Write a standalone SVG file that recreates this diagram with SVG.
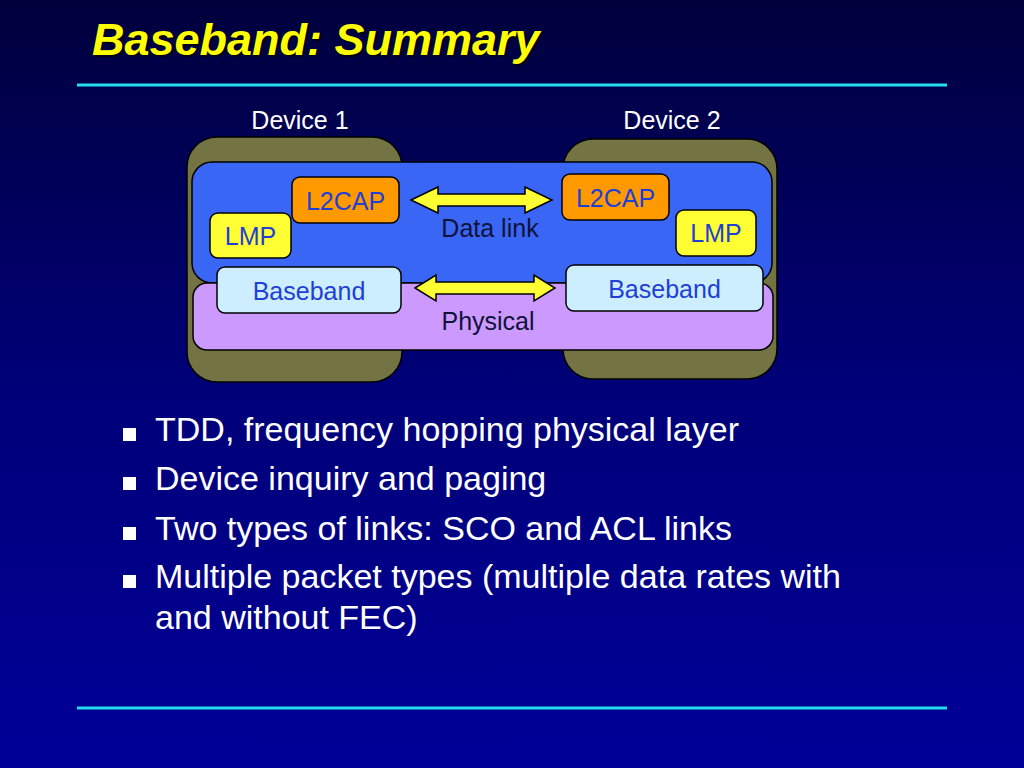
<svg xmlns="http://www.w3.org/2000/svg" width="1024" height="768" viewBox="0 0 1024 768">
<defs>
<linearGradient id="bg" x1="0" y1="0" x2="0" y2="1">
<stop offset="0" stop-color="#00003C"/>
<stop offset="0.5" stop-color="#000078"/>
<stop offset="1" stop-color="#000098"/>
</linearGradient>
<style>
.dev{fill:#737344;stroke:#000;stroke-width:1.5}
.box{stroke:#000;stroke-width:1.5}
.lbl{font-family:"Liberation Sans",Arial,sans-serif;font-size:25px;fill:#1F3FD6;text-anchor:middle}
.wt{font-family:"Liberation Sans",Arial,sans-serif;font-size:25px;fill:#FFFFFF;text-anchor:middle}
.dk{font-family:"Liberation Sans",Arial,sans-serif;font-size:25px;fill:#10123A;text-anchor:middle}
.arr{fill:#FFFF33;stroke:#000;stroke-width:1.5;stroke-linejoin:miter}
.bul{font-family:"Liberation Sans",Arial,sans-serif;font-size:34px;fill:#FFFFFF}
.sq{fill:#FFFFFF}
.rule{stroke:#22DDEE;stroke-width:3}
</style>
</defs>
<rect x="0" y="0" width="1024" height="768" fill="url(#bg)"/>
<text x="94" y="57" font-family="'Liberation Sans',Arial,sans-serif" font-size="45" font-weight="bold" font-style="italic" fill="#000000" opacity="0.7">Baseband: Summary</text>
<text x="92" y="55" font-family="'Liberation Sans',Arial,sans-serif" font-size="45" font-weight="bold" font-style="italic" fill="#FFFF00">Baseband: Summary</text>
<line class="rule" x1="77" y1="85" x2="947" y2="85"/>
<line class="rule" x1="77" y1="708" x2="947" y2="708"/>

<g id="device1">
<rect class="dev" x="187" y="137" width="215" height="245" rx="30"/>
<text class="wt" x="300" y="129">Device 1</text>
</g>
<g id="device2">
<rect class="dev" x="563" y="139" width="214" height="240" rx="30"/>
<text class="wt" x="672" y="129">Device 2</text>
</g>
<g id="datalink-layer">
<rect class="box" x="192" y="162" width="580" height="121" rx="20" fill="#3A66F5"/>
<text class="dk" x="490" y="237">Data link</text>
</g>
<g id="physical-layer">
<rect class="box" x="193" y="283" width="580" height="67" rx="14" fill="#CC99FF"/>
<text class="dk" x="488" y="330">Physical</text>
</g>
<g id="l2cap1">
<rect class="box" x="292" y="177" width="107" height="46" rx="8" fill="#FF9900"/>
<text class="lbl" x="345.5" y="210">L2CAP</text>
</g>
<g id="lmp1">
<rect class="box" x="210" y="213" width="81" height="45" rx="8" fill="#FFFF33"/>
<text class="lbl" x="250.5" y="245">LMP</text>
</g>
<g id="baseband1">
<rect class="box" x="217" y="267" width="184" height="46" rx="8" fill="#CCEEFF"/>
<text class="lbl" x="309" y="300">Baseband</text>
</g>
<g id="l2cap2">
<rect class="box" x="562" y="174" width="107" height="46" rx="8" fill="#FF9900"/>
<text class="lbl" x="615.5" y="207">L2CAP</text>
</g>
<g id="lmp2">
<rect class="box" x="676" y="210" width="80" height="46" rx="8" fill="#FFFF33"/>
<text class="lbl" x="716" y="242">LMP</text>
</g>
<g id="baseband2">
<rect class="box" x="566" y="265" width="197" height="46" rx="8" fill="#CCEEFF"/>
<text class="lbl" x="664.5" y="298">Baseband</text>
</g>

<g id="connectors">
<polygon class="arr" points="411,200 438,187 438,194 525,194 525,187 552,200 525,213 525,206 438,206 438,213"/>
<polygon class="arr" points="415,288 436,275 436,282 534,282 534,275 555,288 534,301 534,294 436,294 436,301"/>
</g>

<g id="bullets">
<rect class="sq" x="123" y="428" width="13" height="13"/>
<text class="bul" x="155" y="441">TDD, frequency hopping physical layer</text>
<rect class="sq" x="123" y="477" width="13" height="13"/>
<text class="bul" x="155" y="490">Device inquiry and paging</text>
<rect class="sq" x="123" y="527" width="13" height="13"/>
<text class="bul" x="155" y="540">Two types of links: SCO and ACL links</text>
<rect class="sq" x="123" y="575" width="13" height="13"/>
<text class="bul" x="155" y="588">Multiple packet types (multiple data rates with</text>
<text class="bul" x="155" y="629">and without FEC)</text>
</g>
</svg>
